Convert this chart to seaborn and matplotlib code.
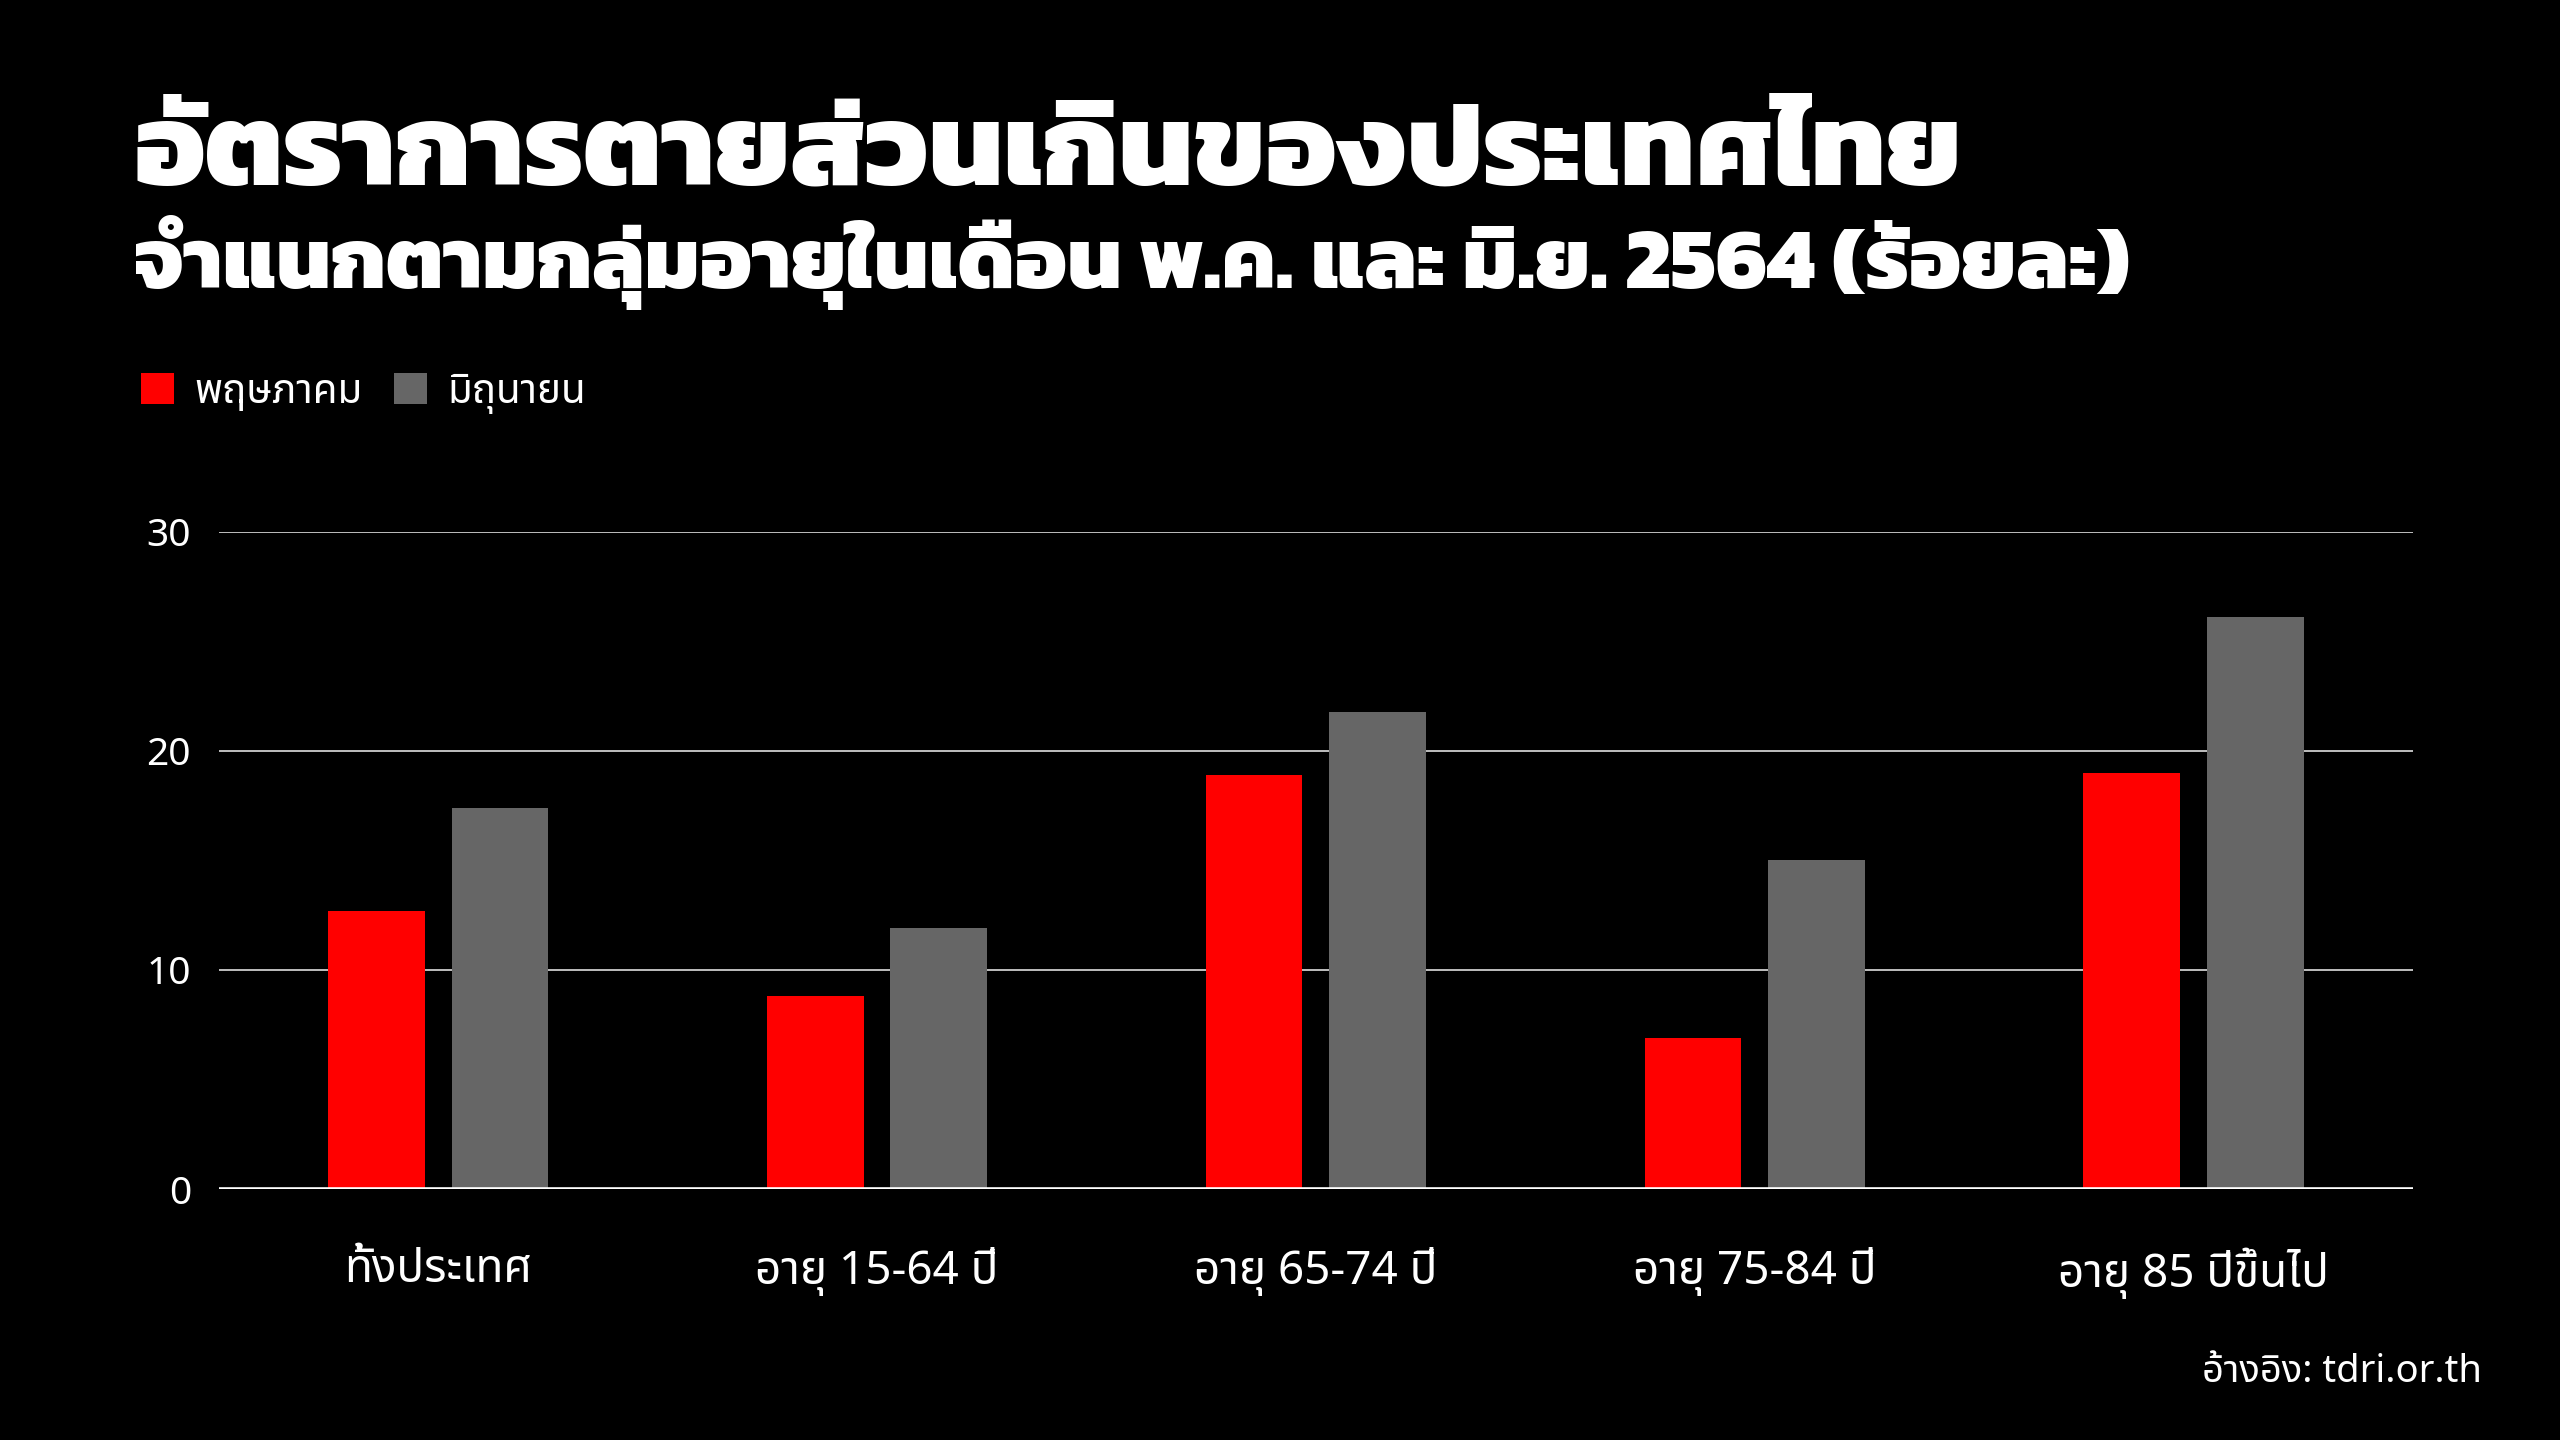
import matplotlib
matplotlib.use("Agg")
import numpy as np
import pandas as pd
import seaborn as sns
import matplotlib.pyplot as plt

# อัตราการตายส่วนเกิน (ร้อยละ) แยกตามกลุ่มอายุ
groups = ["ทั้งประเทศ", "อายุ 15-64 ปี", "อายุ 65-74 ปี", "อายุ 75-84 ปี", "อายุ 85 ปีขึ้นไป"]
months = ["พฤษภาคม", "มิถุนายน"]
may = [12.7, 8.8, 18.9, 6.9, 19.0]
june = [17.4, 11.9, 21.8, 15.0, 26.1]
yticks = [0, 10, 20, 30]

title = "อัตราการตายส่วนเกินของประเทศไทย"
subtitle = "จำแนกตามกลุ่มอายุในเดือน พ.ค. และ มิ.ย. 2564 (ร้อยละ)"
source = "อ้างอิง: tdri.or.th"

df = pd.DataFrame({
    "group": groups * 2,
    "month": [months[0]] * len(groups) + [months[1]] * len(groups),
    "value": may + june,
})

sns.set_theme(style="dark")
plt.rcParams["font.family"] = ["Noto Sans Thai", "DejaVu Sans"]
head_font = ["Kanit", "Noto Sans Thai", "DejaVu Sans"]

fig = plt.figure(figsize=(25.6, 14.4), dpi=100, facecolor="black")
ax = fig.add_axes([0.0855, 0.1743, 0.857, 0.4563])
ax.set_facecolor("black")

sns.barplot(data=df, x="group", y="value", hue="month", order=groups, hue_order=months,
            palette={months[0]: "#FF0000", months[1]: "#666666"},
            width=0.563, gap=0.217, saturation=1, errorbar=None, ax=ax, zorder=2,
            linewidth=0, edgecolor="none")

ax.set_ylim(0, 30)
ax.set_xlim(-0.5, len(groups) - 0.5)
ax.set_yticks(yticks)
ax.set_xlabel("")
ax.set_ylabel("")
for s in ax.spines.values():
    s.set_visible(False)
ax.yaxis.grid(True, color="#BFBFBF", lw=1.4)
ax.xaxis.grid(False)
ax.set_axisbelow(True)
ax.axhline(0, color="white", lw=2.6, zorder=3)
ax.tick_params(axis="x", length=0, pad=42, labelsize=33, labelcolor="white")
ax.tick_params(axis="y", length=0, pad=20, labelsize=28, labelcolor="white")

handles, labels = ax.get_legend_handles_labels()
ax.legend(handles, labels, loc="center left", bbox_to_anchor=(0.055, 0.727),
          bbox_transform=fig.transFigure, ncol=2, frameon=False, fontsize=29,
          labelcolor="white", handlelength=0.82, handleheight=0.82,
          handletextpad=0.5, columnspacing=0.8, borderpad=0, borderaxespad=0)

# หัวเรื่อง ปรับขนาดให้ความกว้างเท่ากับภาพต้นฉบับ
renderer = fig.canvas.get_renderer()
for txt, y, target in [(title, 0.872, 1830), (subtitle, 0.800, 1997)]:
    t = fig.text(0.0523, y, txt, color="white", family=head_font, weight=800,
                 fontsize=60, va="baseline", ha="left")
    w = t.get_window_extent(renderer=renderer).width
    t.set_fontsize(60 * target / w)

fig.text(0.9695, 0.047, source, color="white", fontsize=27.5, ha="right", va="center")

fig.savefig("out.png", dpi=100, facecolor="black")
